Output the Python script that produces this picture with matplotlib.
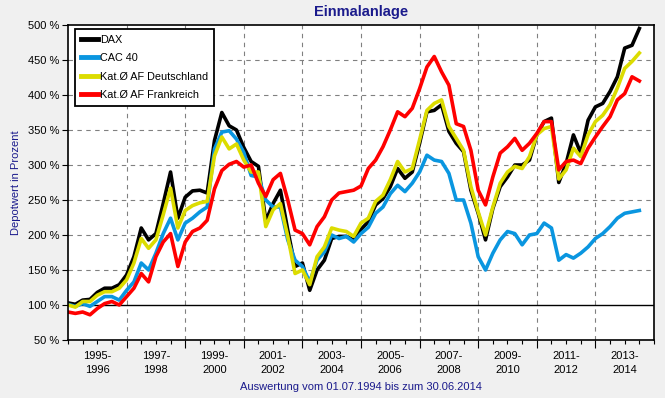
import matplotlib.pyplot as plt
import numpy as np

# Quarterly readings, 01.07.1994 onward (depot value in %)
dax = [103, 101, 107, 108, 118, 124, 124, 129, 143, 169,
       210, 193, 202, 245, 290, 224, 254, 263, 264, 260,
       335, 375, 356, 350, 325, 305, 298, 220, 245, 264,
       207, 155, 160, 121, 150, 164, 195, 198, 198, 193,
       208, 219, 243, 252, 269, 295, 281, 290, 331, 376,
       378, 386, 348, 331, 319, 264, 231, 193, 238, 269,
       283, 300, 300, 307, 343, 362, 367, 275, 302, 343,
       317, 364, 383, 388, 405, 426, 467, 471, 495]
cac40 = [101, 98, 102, 98, 105, 112, 112, 107, 121, 133,
         160, 150, 174, 202, 224, 193, 217, 224, 233, 240,
         323, 347, 349, 337, 318, 285, 283, 250, 240, 240,
         193, 164, 155, 133, 164, 176, 200, 195, 198, 190,
         202, 211, 231, 240, 259, 271, 262, 274, 290, 314,
         307, 305, 288, 250, 250, 217, 169, 150, 174, 193,
         205, 202, 186, 200, 202, 217, 210, 164, 172, 167,
         174, 183, 195, 202, 212, 224, 231, 233, 235]
af_de = [100, 97, 105, 105, 114, 119, 119, 124, 136, 160,
         195, 181, 193, 229, 267, 210, 235, 242, 246, 248,
         313, 340, 323, 330, 307, 290, 290, 212, 236, 245,
         198, 145, 150, 129, 169, 183, 210, 207, 205, 198,
         217, 224, 248, 257, 279, 305, 290, 295, 336, 378,
         388, 393, 355, 338, 321, 269, 233, 200, 240, 274,
         290, 298, 295, 312, 343, 352, 355, 280, 293, 324,
         312, 343, 362, 371, 386, 410, 438, 448, 460]
af_fr = [90, 88, 90, 86, 95, 102, 105, 100, 112, 124,
         145, 133, 169, 190, 202, 155, 190, 205, 210, 221,
         266, 292, 301, 305, 297, 300, 274, 255, 279, 288,
         250, 207, 202, 186, 212, 226, 250, 260, 262, 264,
         270, 295, 307, 326, 350, 376, 369, 381, 409, 440,
         455, 433, 414, 359, 355, 321, 264, 243, 283, 317,
         326, 338, 321, 331, 345, 362, 362, 293, 305, 307,
         302, 324, 340, 355, 369, 393, 402, 426, 420]

names = ["DAX", "CAC 40", "Kat.Ø AF Deutschland", "Kat.Ø AF Frankreich"]
colors = ["#000000", "#0A96E0", "#DCDC00", "#FF0000"]
period_labels = ["1995-\n1996", "1997-\n1998", "1999-\n2000", "2001-\n2002",
                 "2003-\n2004", "2005-\n2006", "2007-\n2008", "2009-\n2010",
                 "2011-\n2012", "2013-\n2014"]

years = 1994.5 + 0.25 * np.arange(len(dax))

plt.rcParams["font.family"] = ["Liberation Sans", "DejaVu Sans"]
navy = "#1A1A8C"

fig = plt.figure(figsize=(6.65, 3.98), dpi=100, facecolor="#F0F0F0")
ax = fig.add_axes([68 / 665, 1 - 340 / 398, 586 / 665, 315 / 398])
ax.set_facecolor("white")

for series, name, color in zip([dax, cac40, af_de, af_fr], names, colors):
    ax.plot(years, series, color=color, linewidth=2.6, label=name,
            solid_joinstyle="round")

ax.set_xlim(1994.5, 2014.5)
ax.set_ylim(50, 500)

yt = np.arange(50, 501, 50)
ax.set_yticks(yt)
ax.set_yticklabels([f"{v} %" for v in yt], fontsize=8)
ax.tick_params(axis="y", length=4, width=0.8, pad=2)

ax.set_xticks(np.arange(1996.5, 2014, 2))
ax.set_xticklabels([])
ax.set_xticks(np.arange(1994.5, 2014.6, 0.5), minor=True)
ax.tick_params(axis="x", which="major", length=6, width=0.8)
ax.tick_params(axis="x", which="minor", length=3, width=0.8)

for y in yt[2:-1]:
    ax.axhline(y, color="#808080", linewidth=0.8, linestyle=(0, (4, 4)), zorder=0)
for x in np.arange(1996.5, 2014, 2):
    ax.axvline(x, color="#808080", linewidth=0.8, linestyle=(0, (4, 4)), zorder=0)
ax.axhline(100, color="black", linewidth=1.0, zorder=1)

for i, lab in enumerate(period_labels):
    ax.text(1995.5 + 2 * i, -0.035, lab, transform=ax.get_xaxis_transform(),
            ha="center", va="top", fontsize=8, linespacing=1.55)

for s in ax.spines.values():
    s.set_linewidth(1.2)
    s.set_color("black")

leg = ax.legend(loc="upper left", bbox_to_anchor=(0.012, 0.988), borderaxespad=0,
                fontsize=7.8, handlelength=1.6, handletextpad=0.15,
                labelspacing=0.78, borderpad=0.55, fancybox=False,
                framealpha=1, edgecolor="black")
leg.get_frame().set_linewidth(1.3)
for line in leg.get_lines():
    line.set_linewidth(3.5)

fig.text(0.5 * (68 + 654) / 665, 1 - 12 / 398, "Einmalanlage", ha="center",
         va="center", fontsize=10.5, fontweight="bold", color=navy)
fig.text(16 / 665, 1 - 183 / 398, "Depotwert in Prozent", ha="center",
         va="center", rotation=90, fontsize=8, color=navy)
fig.text(0.5 * (68 + 654) / 665, 1 - 387 / 398,
         "Auswertung vom 01.07.1994 bis zum 30.06.2014", ha="center",
         va="center", fontsize=8, color=navy)

fig.savefig("out.png", dpi=100, facecolor=fig.get_facecolor())
